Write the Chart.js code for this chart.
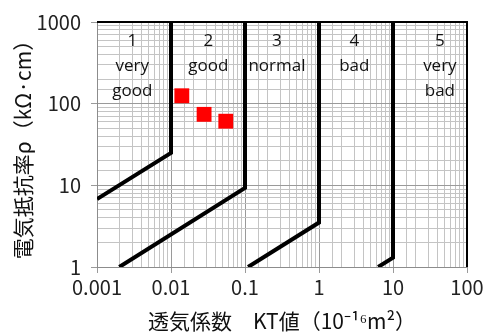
<!DOCTYPE html>
<html lang="ja">
<head>
  <meta charset="UTF-8" />
  <title>透気係数と電気抵抗率</title>
  <script src="https://cdn.jsdelivr.net/npm/chart.js"></script>
  <style>
    body { margin: 0; background: #fff; }
    #grafico { display: block; }
  </style>
</head>
<body>
  <canvas id="grafico" width="489" height="334"></canvas>

  <script>
    // tick labels
    const xTicks = ['0.001', '0.01', '0.1', '1', '10', '100'];
    const yTicks = ['1', '10', '100', '1000'];

    // grade boundaries (KT, rho)
    const line1 = [[0.001, 6.8], [0.01, 25], [0.01, 1000]];
    const line2 = [[0.002, 1], [0.1, 9.3], [0.1, 1000]];
    const line3 = [[0.11, 1], [1, 3.5], [1, 1000]];
    const line4 = [[6.3, 1], [10, 1.3], [10, 1000]];

    // measured values
    const ktValues = [0.014, 0.028, 0.055];
    const rhoValues = [125, 74, 61];

    // grade labels
    const gradeNames = [['1', 'very', 'good'], ['2', 'good'], ['3', 'normal'], ['4', 'bad'], ['5', 'very', 'bad']];
    const gradeX = [0.003, 0.032, 0.27, 3, 43];

    const toPts = arr => arr.map(p => ({ x: p[0], y: p[1] }));
    const isMajor = v => { const l = Math.log10(v); return Math.abs(l - Math.round(l)) < 1e-6; };

    const boundary = data => ({
      data: toPts(data),
      showLine: true,
      borderColor: '#000',
      borderWidth: 4,
      pointRadius: 0,
      fill: false
    });

    // frame (top/right) and grade texts
    const extras = {
      id: 'extras',
      afterDatasetsDraw(chart) {
        const { ctx, chartArea: a, scales } = chart;
        ctx.save();
        ctx.strokeStyle = '#000';
        ctx.lineWidth = 2;
        ctx.beginPath();
        ctx.moveTo(a.left, a.top);
        ctx.lineTo(a.right, a.top);
        ctx.lineTo(a.right, a.bottom);
        ctx.stroke();
        ctx.fillStyle = '#111';
        ctx.font = '17px "Open Sans"';
        ctx.textAlign = 'center';
        ctx.textBaseline = 'middle';
        gradeNames.forEach((lines, i) => {
          const x = scales.x.getPixelForValue(gradeX[i]);
          lines.forEach((t, j) => ctx.fillText(t, x, a.top + 19 + j * 25));
        });
        ctx.restore();
      }
    };

    const tickFont = { family: '"Noto Sans CJK JP"', size: 20 };
    const titleFont = { family: '"Noto Sans CJK JP"', size: 21 };

    new Chart(document.getElementById('grafico'), {
      type: 'scatter',
      data: {
        datasets: [
          boundary(line1), boundary(line2), boundary(line3), boundary(line4),
          {
            data: ktValues.map((x, i) => ({ x, y: rhoValues[i] })),
            pointStyle: 'rect',
            pointRadius: 10.5,
            backgroundColor: '#ff0000',
            borderColor: '#ff0000',
            borderWidth: 0
          }
        ]
      },
      options: {
        responsive: false,
        animation: false,
        layout: { padding: { top: 19, right: 22, left: 0, bottom: 0 } },
        plugins: { legend: { display: false }, tooltip: { enabled: false } },
        scales: {
          x: {
            type: 'logarithmic',
            min: 0.001,
            max: 100,
            afterFit: s => { s.height = 67; },
            grid: {
              color: c => isMajor(c.tick.value) ? '#9a9a9a' : '#c4c4c4',
              tickColor: c => isMajor(c.tick.value) ? '#9a9a9a' : 'rgba(0,0,0,0)',
              tickLength: 6
            },
            border: { color: '#8c8c8c', width: 1 },
            ticks: {
              autoSkip: false,
              maxRotation: 0,
              padding: 2,
              color: '#222',
              font: tickFont,
              callback: v => isMajor(v) ? xTicks[Math.round(Math.log10(v)) + 3] : ''
            },
            title: {
              display: true,
              text: '透気係数　KT値（10⁻¹⁶m²）',
              color: '#111',
              font: titleFont,
              padding: 0
            }
          },
          y: {
            type: 'logarithmic',
            min: 1,
            max: 1000,
            afterFit: s => { s.width = 97; },
            grid: {
              color: c => isMajor(c.tick.value) ? '#9a9a9a' : '#c4c4c4',
              tickColor: c => isMajor(c.tick.value) ? '#9a9a9a' : 'rgba(0,0,0,0)',
              tickLength: 6
            },
            border: { color: '#8c8c8c', width: 1 },
            ticks: {
              autoSkip: false,
              padding: 10,
              color: '#222',
              font: tickFont,
              callback: v => isMajor(v) ? yTicks[Math.round(Math.log10(v))] : ''
            },
            title: {
              display: true,
              text: '電気抵抗率ρ（kΩ·cm）',
              color: '#111',
              font: titleFont,
              padding: { top: 10, bottom: 0 }
            }
          }
        }
      },
      plugins: [extras]
    });
  </script>
</body>
</html>
